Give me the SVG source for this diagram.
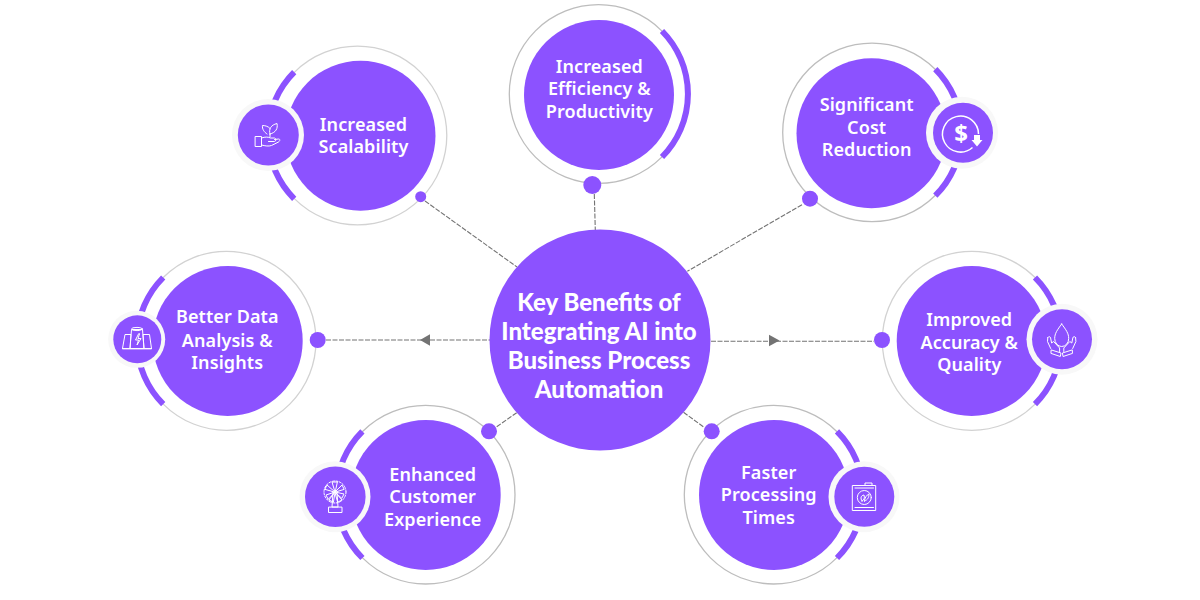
<svg xmlns="http://www.w3.org/2000/svg" width="1200" height="600" viewBox="0 0 1200 600">
<style>
.p{fill:#8c52ff}
.ring{fill:none;stroke:#bdbdbd;stroke-width:1.3}
.lt{stroke:#d2d2d2}
.arc{fill:none;stroke:#8c52ff;stroke-width:6}
.halo{fill:#f8f8f8}
.t{font-family:"Noto Sans","Liberation Sans",sans-serif;font-weight:600;font-size:18px;letter-spacing:.1px;fill:#fff;text-anchor:middle}
.c{font-family:Lato,"Liberation Sans",sans-serif;font-weight:900;font-size:24px;fill:#fff;text-anchor:middle}
.ln{fill:none;stroke:#737373;stroke-width:1.1;stroke-dasharray:5 1.5}
.ic{fill:none;stroke:#fff;stroke-width:1;stroke-linejoin:round;stroke-linecap:round}
.ah{fill:#737373}
</style>
<rect width="1200" height="600" fill="#fff"/>
<g id="connectors">
<path class="ln" d="M425 201L517 267"/>
<path class="ln" d="M594.3 194L595.3 230"/>
<path class="ln" d="M802 204.700L687.300 271.300"/>
<path class="ln" d="M326 340H490"/>
<path class="ln" d="M711 341.300H874"/>
<path class="ln" d="M496.700 426.700L516.700 412.700"/>
<path class="ln" d="M703.300 426.700L682.700 411.700"/>
<path class="ah" d="M420 340L430 334.300V345.700Z"/>
<path class="ah" d="M779.500 340.500L769 334.800V346.200Z"/>
</g>
<g id="center"><circle class="p" cx="600" cy="340" r="110.500"/>
<text class="c" x="599" y="311">Key Benefits of</text>
<text class="c" x="599" y="340">Integrating AI into</text>
<text class="c" x="599" y="369">Business Process</text>
<text class="c" x="599" y="398">Automation</text></g>

<g id="node-scalability">
<circle class="ring lt" cx="357.500" cy="135.500" r="89.300"/>
<path class="arc" d="M294.200 72.200A89.500 89.500 0 0 0 294.200 198.800"/>
<circle class="p" cx="360.500" cy="135.700" r="75"/>
<circle class="p" cx="420.700" cy="196.700" r="5.500"/>
<text class="t" x="363.500" y="130.700">Increased</text>
<text class="t" x="363.500" y="153">Scalability</text>
<circle class="halo" cx="268" cy="135" r="36"/><circle class="p" cx="268.300" cy="135" r="30.500"/>
<g class="ic"><path d="M255.500 136.500h6v10h-6zM261.500 138c4-1.500 7-1 9 0h4a1.800 1.800 0 0 1 0 3.500h-6M274.500 139.500l4-.5c2 0 1.500 2 0 3l-7 3.500c-3 1-6 .5-10 -.5"/><path d="M267 134c-3-2-5-5-4.500-8.500 3 0 6 1 7.500 3M270 134c-1.500-5 1-9 7-10.500 1 5-1 9-7 10.500zM270 134v3"/></g>
</g>

<g id="node-efficiency">
<circle class="ring" cx="598.600" cy="94" r="89.300"/>
<path class="arc" d="M662 31A89.500 89.500 0 0 1 662 157"/>
<circle class="p" cx="599" cy="95" r="75"/>
<circle class="p" cx="592.300" cy="185" r="9"/>
<text class="t" x="599.300" y="72.700">Increased</text>
<text class="t" x="599.300" y="95">Efficiency &amp;</text>
<text class="t" x="599.300" y="117.700">Productivity</text>
</g>

<g id="node-cost">
<circle class="ring" cx="872" cy="132.400" r="89.300"/>
<path class="arc" d="M935.300 69.100A89.500 89.500 0 0 1 935.300 195.700"/>
<circle class="p" cx="871.500" cy="133.300" r="75"/>
<circle class="p" cx="810" cy="198.700" r="8"/>
<text class="t" x="866.700" y="110.700">Significant</text>
<text class="t" x="866.700" y="133.700">Cost</text>
<text class="t" x="866.700" y="155.700">Reduction</text>
<circle class="halo" cx="962" cy="132.700" r="36"/><circle class="p" cx="963" cy="132.700" r="30"/>
<g><path d="M978.500 134A18 18 0 1 0 972.500 147.500" fill="none" stroke="#fff" stroke-width="1.500"/>
<path fill="#fff" d="M974 135h6v5h2.500l-5.500 6.500-5.500-6.500h2.500z"/>
<text x="961" y="141.500" font-family="'Noto Sans',sans-serif" font-weight="700" font-size="24" fill="#fff" text-anchor="middle">$</text></g>
</g>

<g id="node-data">
<circle class="ring lt" cx="226.500" cy="340.800" r="89.500"/>
<path class="arc" d="M163.200 277.500A89.500 89.500 0 0 0 163.200 404.100"/>
<circle class="p" cx="227.700" cy="341" r="75"/>
<circle class="p" cx="317.700" cy="340" r="8"/>
<text class="t" x="227.300" y="323.300">Better Data</text>
<text class="t" x="227.300" y="346.700">Analysis &amp;</text>
<text class="t" x="227.300" y="369">Insights</text>
<circle class="halo" cx="136.700" cy="339.300" r="28.500"/><circle class="p" cx="137.300" cy="339.300" r="24"/>
<g class="ic"><path d="M122.500 348.500l2.500-14h6l-1 14zM144 348.500l-1-14h6.500l2 14zM130 348.500l1.500-19h11l1.500 19zM122.500 348.500h29"/><ellipse cx="137" cy="329" rx="5.500" ry="1.600"/><path d="M138.500 334l-3 6h3l-1.500 5 4-6.500h-3l1.500-4.500z"/></g>
</g>

<g id="node-accuracy">
<circle class="ring lt" cx="971.800" cy="340.800" r="89.500"/>
<path class="arc" d="M1035 277.500A89.500 89.500 0 0 1 1035 404.100"/>
<circle class="p" cx="971.700" cy="341" r="75"/>
<circle class="p" cx="882" cy="340" r="8"/>
<text class="t" x="969.300" y="326">Improved</text>
<text class="t" x="969.300" y="349">Accuracy &amp;</text>
<text class="t" x="969.300" y="370.700">Quality</text>
<circle class="halo" cx="1062" cy="339.300" r="35.500"/><circle class="p" cx="1062" cy="339.300" r="30"/>
<g class="ic"><path d="M1061.700 324c4.500 6 7 9.500 7 14.500a7 8 0 0 1-14 0c0-5 2.500-8.500 7-14.500z"/><path d="M1047.800 337.500c1-1.500 2.500-1 2.800 .5l1 5 2-1.500 6 6.500v3.500M1047.800 337.500l-.3 4 3.200 7M1075.600 337.500c-1-1.500-2.500-1-2.800 .5l-1 5-2-1.500-6 6.500v3.500M1075.600 337.500l.3 4-3.200 7M1051.500 350l9.500 3-.7 3.500-9-3zM1071.900 350l-9.500 3 .7 3.500 9-3z"/></g>
</g>

<g id="node-customer">
<circle class="ring" cx="425.700" cy="494.700" r="89.300"/>
<path class="arc" d="M362.400 431.400A89.500 89.500 0 0 0 362.400 558"/>
<circle class="p" cx="425.700" cy="495" r="75"/>
<circle class="p" cx="489" cy="431.300" r="8"/>
<text class="t" x="432.700" y="481">Enhanced</text>
<text class="t" x="432.700" y="503.300">Customer</text>
<text class="t" x="432.700" y="526">Experience</text>
<circle class="halo" cx="335" cy="496.700" r="35.500"/><circle class="p" cx="335.300" cy="496.700" r="30.300"/>
<g class="ic"><circle cx="335" cy="492" r="11" stroke-dasharray="2 1.500"/><path d="M335 492l-3-10 5 0zM335 492l7-7 2 4zM335 492l9 2-2 4zM335 492l-8-7-2 4zM335 492l-9 3 2 4zM335 492l7 8-4 2zM335 492l-6 8 4 2zM333 492l-1 15h6l-1-15M328.500 507.500v5h13.500v-5z"/></g>
</g>

<g id="node-speed">
<circle class="ring" cx="773.600" cy="494.700" r="89.300"/>
<path class="arc" d="M837 431.400A89.500 89.500 0 0 1 837 558"/>
<circle class="p" cx="774" cy="495" r="75"/>
<circle class="p" cx="711.700" cy="431.300" r="8"/>
<text class="t" x="768.700" y="478.700">Faster</text>
<text class="t" x="768.700" y="501">Processing</text>
<text class="t" x="768.700" y="523.700">Times</text>
<circle class="halo" cx="864" cy="496.700" r="35.500"/><circle class="p" cx="864.300" cy="496.700" r="30"/>
<g class="ic"><path d="M852.700 485.500h23v25h-23zM855 488h18.500M855 507.500h18.500M865 485.500v-2.500h7v2.500"/><circle cx="864.300" cy="497.500" r="7"/><path d="M862 501c-2-3-1-5.500 2-6 1 3 0 5.500-2 6zM864.500 501c0-3 2-6 4.500-7 0 3-1 6-4.500 7z"/></g>
</g>
</svg>
